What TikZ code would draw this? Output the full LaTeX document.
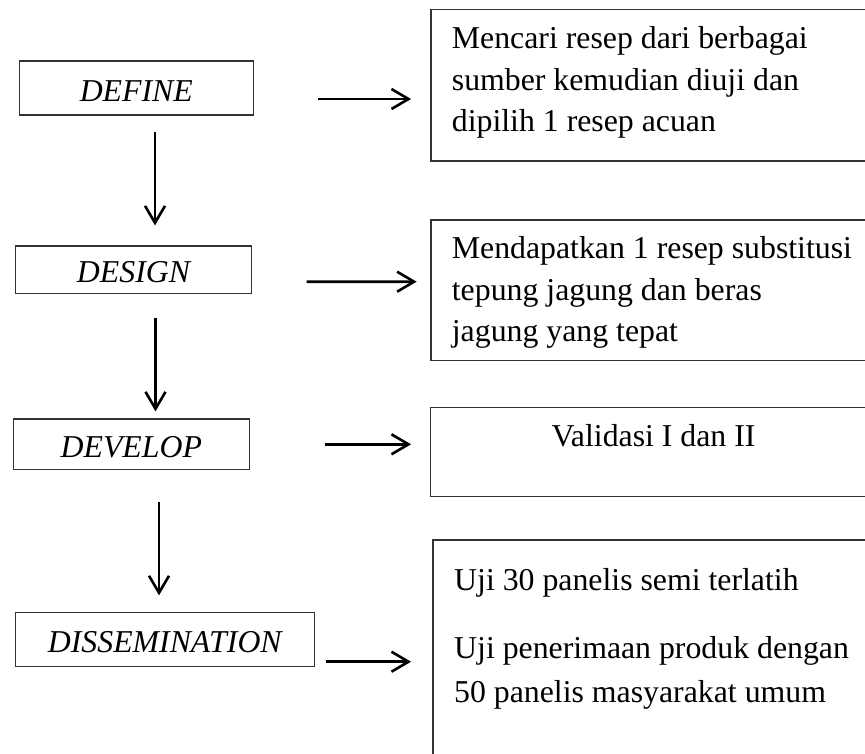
\documentclass[tikz,border=0pt]{standalone}
\usepackage{fontspec}
\setmainfont{Liberation Serif}
\usetikzlibrary{arrows.meta,calc}
\newcommand\diagfont{\fontsize{31.8pt}{40pt}\selectfont}
\tikzset{
  stagebox/.style={draw=black!80, line width=1.3pt, rectangle, inner sep=0pt,
    font=\diagfont\itshape, text height=26pt, text depth=0pt},
  sidebox/.style={draw=black!80, line width=1.3pt, rectangle, inner sep=0pt},
  flow/.style={line width=2.6pt, -{Straight Barb[length=17pt,width=20pt]}},
  txt/.style={anchor=base west, inner sep=0pt, font=\diagfont},
}
\begin{document}
\begin{tikzpicture}[x=1pt,y=-1pt]
\useasboundingbox (0,0) rectangle (865,753);
\clip (0,0) rectangle (865,753);
% left stage boxes
\node[stagebox, minimum width=234pt, minimum height=54pt] (define) at (136.3,88) {DEFINE};
\node[stagebox, minimum width=236.4pt, minimum height=47.3pt] (design) at (133.5,269.7) {DESIGN};
\node[stagebox, minimum width=236pt, minimum height=50.3pt] (develop) at (131.3,444.2) {DEVELOP};
\node[stagebox, minimum width=299pt, minimum height=54.4pt] (dissem) at (164.8,639.5) {DISSEMINATION};
% right boxes
\node[sidebox, minimum width=449pt, minimum height=151.7pt] (r1) at (655.5,85.2) {};
\node[sidebox, minimum width=449pt, minimum height=140.7pt] (r2) at (655.5,290.35) {};
\node[sidebox, minimum width=449pt, minimum height=89pt] (r3) at (655.2,452.2) {};
\node[sidebox, minimum width=448pt, minimum height=230pt] (r4) at (657,655) {};
% texts
\node[txt] (t11) at (451.7,48.3) {Mencari resep dari berbagai};
\node[txt] (t12) at (451.7,90.7) {sumber kemudian diuji dan};
\node[txt] (t13) at (451.7,131.7) {dipilih 1 resep acuan};
\node[txt] (t21) at (451.7,258.3) {Mendapatkan 1 resep substitusi};
\node[txt] (t22) at (451.7,300) {tepung jagung dan beras};
\node[txt] (t23) at (451.7,341.7) {jagung yang tepat};
\node[txt, anchor=base] (t31) at (653.5,446.7) {Validasi I dan II};
\node[txt] (t41) at (454,590) {Uji 30 panelis semi terlatih};
\node[txt] (t42) at (454,658) {Uji penerimaan produk dengan};
\node[txt] (t43) at (454,702) {50 panelis masyarakat umum};
% downward arrows
\draw[flow] ($(define.south)+(18.7,16)$) -- ($(design.north)+(21.5,-20)$);
\draw[flow] ($(design.south)+(22,23.7)$) -- ($(develop.north)+(24.2,-7)$);
\draw[flow] ($(develop.south)+(27.7,32.4)$) -- ($(dissem.north)+(-5.8,-16.3)$);
% rightward arrows
\draw[flow] ($(define.east)+(64,11)$) -- ($(r1.west)+(-19.3,13.8)$);
\draw[flow] ($(design.east)+(54.3,12)$) -- ($(r2.west)+(-13.7,-8.65)$);
\draw[flow] ($(develop.east)+(74.7,0.1)$) -- ($(r3.west)+(-19,-7.9)$);
\draw[flow] ($(dissem.east)+(10.7,22.2)$) -- ($(r4.west)+(-21.3,6.7)$);
\end{tikzpicture}
\end{document}
